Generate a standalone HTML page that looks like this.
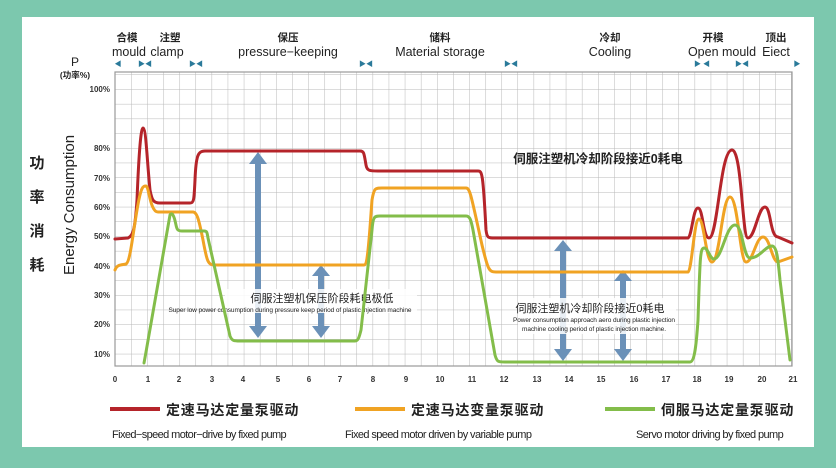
<!DOCTYPE html>
<html><head><meta charset="utf-8"><style>
html,body{margin:0;padding:0;}
body{width:836px;height:468px;background:#7cc8ae;position:relative;overflow:hidden;font-family:"Liberation Sans","Noto Sans CJK SC",sans-serif;}
.card{position:absolute;left:22px;top:17px;width:792px;height:430px;background:#fff;}
</style></head><body>
<div class="card"></div>
<svg width="836" height="468" style="position:absolute;left:0;top:0" font-family="Liberation Sans, Noto Sans CJK SC, sans-serif">
<defs>
<pattern id="g" x="115" y="74.5" width="16.1" height="14.7" patternUnits="userSpaceOnUse">
<path d="M0 0V14.7M0 0H16.1" stroke="#b8b8b8" stroke-width="1" fill="none"/>
</pattern>
</defs>
<rect x="115" y="72" width="677" height="294" fill="url(#g)"/>
<rect x="115" y="72" width="677" height="294" fill="none" stroke="#999" stroke-width="1.2"/>
<g font-size="8" font-weight="bold" fill="#333" text-anchor="end">
<text x="110" y="92">100%</text><text x="110" y="151">80%</text><text x="110" y="181">70%</text><text x="110" y="210">60%</text><text x="110" y="239">50%</text><text x="110" y="269">40%</text><text x="110" y="298">30%</text><text x="110" y="327">20%</text><text x="110" y="357">10%</text>
</g>
<g font-size="8" font-weight="bold" fill="#333" text-anchor="middle">
<text x="115" y="382">0</text><text x="148" y="382">1</text><text x="179" y="382">2</text><text x="212" y="382">3</text><text x="243" y="382">4</text><text x="278" y="382">5</text><text x="309" y="382">6</text><text x="340" y="382">7</text><text x="373" y="382">8</text><text x="406" y="382">9</text><text x="440" y="382">10</text><text x="472" y="382">11</text><text x="504" y="382">12</text><text x="537" y="382">13</text><text x="569" y="382">14</text><text x="601" y="382">15</text><text x="634" y="382">16</text><text x="666" y="382">17</text><text x="697" y="382">18</text><text x="729" y="382">19</text><text x="762" y="382">20</text><text x="793" y="382">21</text>
</g>
<text x="75" y="66" font-size="12" text-anchor="middle" fill="#222">P</text>
<text x="75" y="78" font-size="8.5" font-weight="bold" text-anchor="middle" fill="#222">(功率%)</text>
<g font-size="15" font-weight="bold" fill="#222" text-anchor="middle">
<text x="37" y="168">功</text><text x="37" y="202">率</text><text x="37" y="236">消</text><text x="37" y="270">耗</text>
</g>
<text transform="translate(74,205) rotate(-90)" font-size="15" text-anchor="middle" fill="#222">Energy Consumption</text>
<g font-size="10.5" font-weight="bold" fill="#222" text-anchor="middle">
<text x="127" y="41">合模</text><text x="170" y="41">注塑</text><text x="288" y="41">保压</text><text x="440" y="41">储料</text><text x="610" y="41">冷却</text><text x="713" y="41">开模</text><text x="776" y="41">顶出</text>
</g>
<g font-size="12.5" fill="#222" text-anchor="middle">
<text x="129" y="56">mould</text><text x="167" y="56">clamp</text><text x="288" y="56">pressure−keeping</text><text x="440" y="56">Material storage</text><text x="610" y="56">Cooling</text><text x="722" y="56">Open mould</text><text x="776" y="56">Eiect</text>
</g>
<g font-size="7" fill="#2a7a9a" text-anchor="middle">
<text x="118" y="66">◀</text><text x="145" y="66">▶◀</text><text x="196" y="66">▶◀</text><text x="366" y="66">▶◀</text><text x="511" y="66">▶◀</text><text x="702" y="66">▶ ◀</text><text x="742" y="66">▶◀</text><text x="797" y="66">▶</text>
</g>
<g fill="#6b91b8">
<rect x="255" y="162" width="6" height="166"/><polygon points="249,164 258,152 267,164"/><polygon points="249,326 258,338 267,326"/>
<rect x="318" y="274" width="6" height="54"/><polygon points="312,276 321,265 330,276"/><polygon points="312,326 321,338 330,326"/>
<rect x="560" y="249" width="6" height="102"/><polygon points="554,251 563,240 572,251"/><polygon points="554,349 563,361 572,349"/>
<rect x="620" y="279" width="6" height="72"/><polygon points="614,281 623,270 632,281"/><polygon points="614,349 623,361 632,349"/>
</g>
<rect x="225" y="289" width="192" height="24" fill="#fff" opacity="0.85"/>
<rect x="518" y="298" width="158" height="36" fill="#fff" opacity="0.85"/>
<text x="322" y="302" font-size="11" text-anchor="middle" fill="#222">伺服注塑机保压阶段耗电极低</text>
<text x="290" y="312" font-size="6.5" text-anchor="middle" fill="#222" textLength="243">Super low power consumption during pressure keep period of plastic injection machine</text>
<text x="590" y="312" font-size="11" text-anchor="middle" fill="#222">伺服注塑机冷却阶段接近0耗电</text>
<text x="594" y="322" font-size="6.5" text-anchor="middle" fill="#222" textLength="162">Power consumption approach aero during plastic injection</text>
<text x="594" y="331" font-size="6.5" text-anchor="middle" fill="#222" textLength="144">machine cooling period of plastic injection machine.</text>
<text x="598" y="163" font-size="12.5" font-weight="bold" text-anchor="middle" fill="#222">伺服注塑机冷却阶段接近0耗电</text>
<g fill="none" stroke-width="3" stroke-linejoin="round" stroke-linecap="round">
<path stroke="#b5242a" d="M115 239 L128 238 C133 236 135 230 137 200 C139 150 141 128 143 128 C146 128 147 160 150 190 C152 200 153 203 160 203 L190 203 C194 203 194 200 195 180 C196 155 198 151 205 151 L360 151 C364 151 364 153 366 165 C367 171 370 171 378 171 L478 171 C482 171 483 172 486 230 C487 238 488 238 495 238 L688 238 C692 236 693 208 698 208 C703 208 703 238 709 238 C718 238 720 150 732 150 C742 150 742 238 748 238 C755 238 758 207 765 207 C771 207 770 237 778 237 L792 243"/>
<path stroke="#f0a323" d="M115 270 C117 264 122 265 126 264 C130 262 132 240 137 210 C141 186 143 186 146 186 C149 186 150 212 158 212 L193 212 C197 212 199 220 203 240 C207 262 208 265 215 265 L364 265 C368 265 369 240 372 200 C374 188 375 188 382 188 L466 188 C470 188 471 195 482 245 C488 270 489 272 496 272 L688 272 C692 270 694 219 699 219 C704 219 706 262 712 262 C720 262 722 197 730 197 C738 197 740 262 746 262 C753 262 756 237 763 237 C770 237 772 262 778 262 L792 257"/>
<path stroke="#83bd4a" d="M144 363 L146 352 L170 215 C172 212 174 215 176 225 C177 230 178 231 182 231 L204 231 C207 231 207 232 208 238 L230 336 C232 341 234 341 240 341 L355 341 C358 341 359 338 361 330 L372 230 C373 217 374 216 380 216 L466 216 C470 216 471 220 473 230 L495 355 C497 362 498 362 505 362 L690 362 C694 362 696 350 698 320 C700 260 700 248 704 248 C708 248 710 259 714 259 C722 259 726 225 735 225 C743 225 743 258 750 258 C760 258 765 246 772 246 C777 246 778 260 780 280 L790 360"/>
</g>
<line x1="110" y1="409" x2="160" y2="409" stroke="#b5242a" stroke-width="4"/>
<line x1="355" y1="409" x2="405" y2="409" stroke="#f0a323" stroke-width="4"/>
<line x1="605" y1="409" x2="655" y2="409" stroke="#83bd4a" stroke-width="4"/>
<g font-size="14" font-weight="bold" fill="#222" letter-spacing="0.8">
<text x="166" y="415">定速马达定量泵驱动</text><text x="411" y="415">定速马达变量泵驱动</text><text x="661" y="415">伺服马达定量泵驱动</text>
</g>
<g font-size="11" fill="#222" letter-spacing="-0.6">
<text x="112" y="438">Fixed−speed motor−drive by fixed pump</text><text x="345" y="438">Fixed speed motor driven by variable pump</text><text x="636" y="438">Servo motor driving by fixed pump</text>
</g>
</svg>
</body></html>
